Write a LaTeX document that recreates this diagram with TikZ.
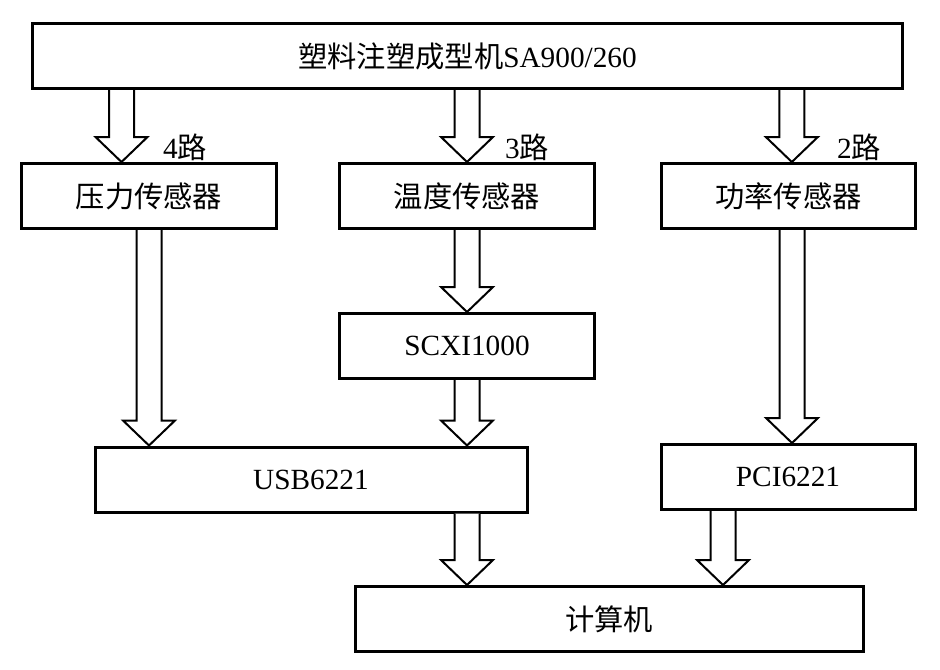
\documentclass[tikz,border=0pt]{standalone}
\usepackage{fontspec}
\setmainfont{Liberation Serif}
\newfontfamily\cjk{Noto Sans CJK SC}
\usetikzlibrary{calc}

% hollow block arrow: source node, target node, point giving the x position
\newcommand\fatarrow[3]{%
  \draw[fat] let \p1=(#1.south), \p2=(#2.north), \p3=(#3) in
    (\x3-3.75mm,\y1) -- (\x3-3.75mm,\y2+7.5mm) -- (\x3-7.8mm,\y2+7.5mm) -- (\x3,\y2)
    -- (\x3+7.8mm,\y2+7.5mm) -- (\x3+3.75mm,\y2+7.5mm) -- (\x3+3.75mm,\y1);}

\begin{document}
\begin{tikzpicture}[
  x=0.3mm, y=-0.3mm,
  every node/.style={font=\fontsize{25}{30}\selectfont},
  box/.style={draw, line width=0.9mm, minimum height=19.5mm, inner sep=0pt},
  lbl/.style={inner sep=0pt, anchor=west},
  fat/.style={draw, fill=white, line width=0.6mm, miter limit=10}
]
\useasboundingbox (0,0) rectangle (940,669);

\node[box, minimum width=260.7mm] (machine) at (467.5,56) {{\cjk 塑料注塑成型机}SA900/260};
\node[box, minimum width=76.2mm] (press) at (149,196) {\cjk 压力传感器};
\node[box, minimum width=76.5mm] (temp) at (467,196) {\cjk 温度传感器};
\node[box, minimum width=76mm] (power) at (788.5,196) {\cjk 功率传感器};
\node[box, minimum width=76.5mm] (scxi) at (467,346) {SCXI1000};
\node[box, minimum width=129.6mm] (usb) at (311,479.5) {USB6221};
\node[box, minimum width=76.2mm] (pci) at (788,477) {PCI6221};
\node[box, minimum width=152.4mm] (pc) at (609,619) {\cjk 计算机};

\node[lbl] (ch4) at (163,147) {4{\cjk 路}};
\node[lbl] (ch3) at (505,147) {3{\cjk 路}};
\node[lbl] (ch2) at (837,147) {2{\cjk 路}};

\fatarrow{machine}{press}{[xshift=-8.25mm]press.north}
\fatarrow{machine}{temp}{temp.north}
\fatarrow{machine}{power}{[xshift=1mm]power.north}
\fatarrow{press}{usb}{press.south}
\fatarrow{temp}{scxi}{scxi.north}
\fatarrow{scxi}{usb}{scxi.south}
\fatarrow{power}{pci}{[xshift=1.2mm]pci.north}
\fatarrow{usb}{pc}{scxi.south}
\fatarrow{pci}{pc}{[xshift=-19.5mm]pci.south}
\end{tikzpicture}
\end{document}
